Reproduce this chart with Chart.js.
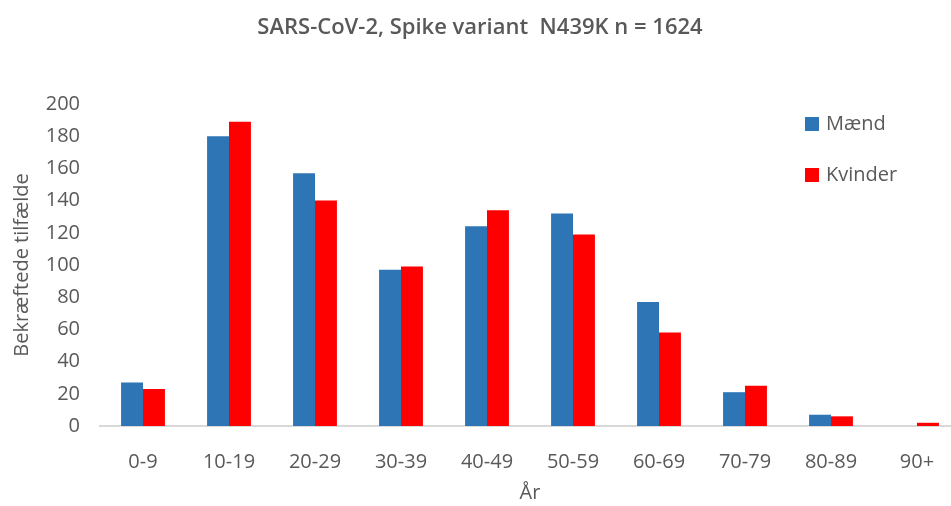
<!DOCTYPE html>
<html>
<head>
<meta charset="utf-8">
<script src="https://cdn.jsdelivr.net/npm/chart.js@4/dist/chart.umd.min.js"></script>
<style>
  html, body { margin: 0; padding: 0; background: #fff; overflow: hidden; }
  #wrap { width: 970px; height: 506px; }
</style>
</head>
<body>
<div id="wrap"><canvas id="c" width="970" height="506"></canvas></div>
<script>
var ageGroups = ['0-9', '10-19', '20-29', '30-39', '40-49', '50-59', '60-69', '70-79', '80-89', '90+'];
var maend   = [27, 180, 157, 97, 124, 132, 77, 21, 7, 0];
var kvinder = [23, 189, 140, 99, 134, 119, 58, 25, 6, 2];
var yTicks  = [0, 20, 40, 60, 80, 100, 120, 140, 160, 180, 200];

var grey = '#595959';
var font = "'Open Sans', sans-serif";

// legend drawn inside the plot, like the excel original
var sideLegend = {
    id: 'sideLegend',
    afterDraw: function(chart) {
        var ctx = chart.ctx;
        var x = 805, y = 124;
        ctx.save();
        ctx.font = '20px ' + font;
        ctx.textBaseline = 'middle';
        chart.data.datasets.forEach(function(ds, i) {
            var yy = y + i * 51;
            ctx.fillStyle = ds.backgroundColor;
            ctx.fillRect(x, yy - 7, 14, 14);
            ctx.fillStyle = grey;
            ctx.fillText(ds.label, x + 21, yy);
        });
        ctx.restore();
    }
};

var ctx = document.getElementById('c').getContext('2d');
var chart = new Chart(ctx, {
    type: 'bar',
    data: {
        labels: ageGroups,
        datasets: [{
            label: 'Mænd',
            backgroundColor: '#2E75B6',
            data: maend
        }, {
            label: 'Kvinder',
            backgroundColor: '#FF0000',
            data: kvinder
        }]
    },
    options: {
        responsive: false,
        animation: false,
        layout: { padding: { left: 0, right: 10, bottom: 0 } },
        datasets: { bar: { barPercentage: 1, categoryPercentage: 0.51 } },
        plugins: {
            legend: { display: false },
            tooltip: { enabled: false },
            title: {
                display: true,
                text: 'SARS-CoV-2, Spike variant  N439K n = 1624',
                color: grey,
                font: { family: font, size: 22, weight: '600' },
                padding: { top: 15, bottom: 62.6 }
            }
        },
        scales: {
            x: {
                grid: { display: false, drawTicks: false },
                border: { display: true, color: '#d9d9d9', width: 2 },
                ticks: { color: grey, font: { family: font, size: 20 }, padding: 24 },
                title: { display: true, text: 'År', color: grey, font: { family: font, size: 20 }, padding: { top: 0, bottom: 1 } },
                afterFit: function(s) { s.height = 80; }
            },
            y: {
                min: 0, max: 200,
                afterBuildTicks: function(s) { s.ticks = yTicks.map(function(v) { return { value: v }; }); },
                grid: { display: false, drawTicks: false },
                border: { display: false },
                ticks: { color: grey, font: { family: font, size: 20 }, padding: 20 },
                title: { display: true, text: 'Bekræftede tilfælde', color: grey, font: { family: font, size: 20 }, padding: { top: 10, bottom: 0 } },
                afterFit: function(s) { s.width = 100; }
            }
        }
    },
    plugins: [sideLegend]
});
</script>
</body>
</html>
